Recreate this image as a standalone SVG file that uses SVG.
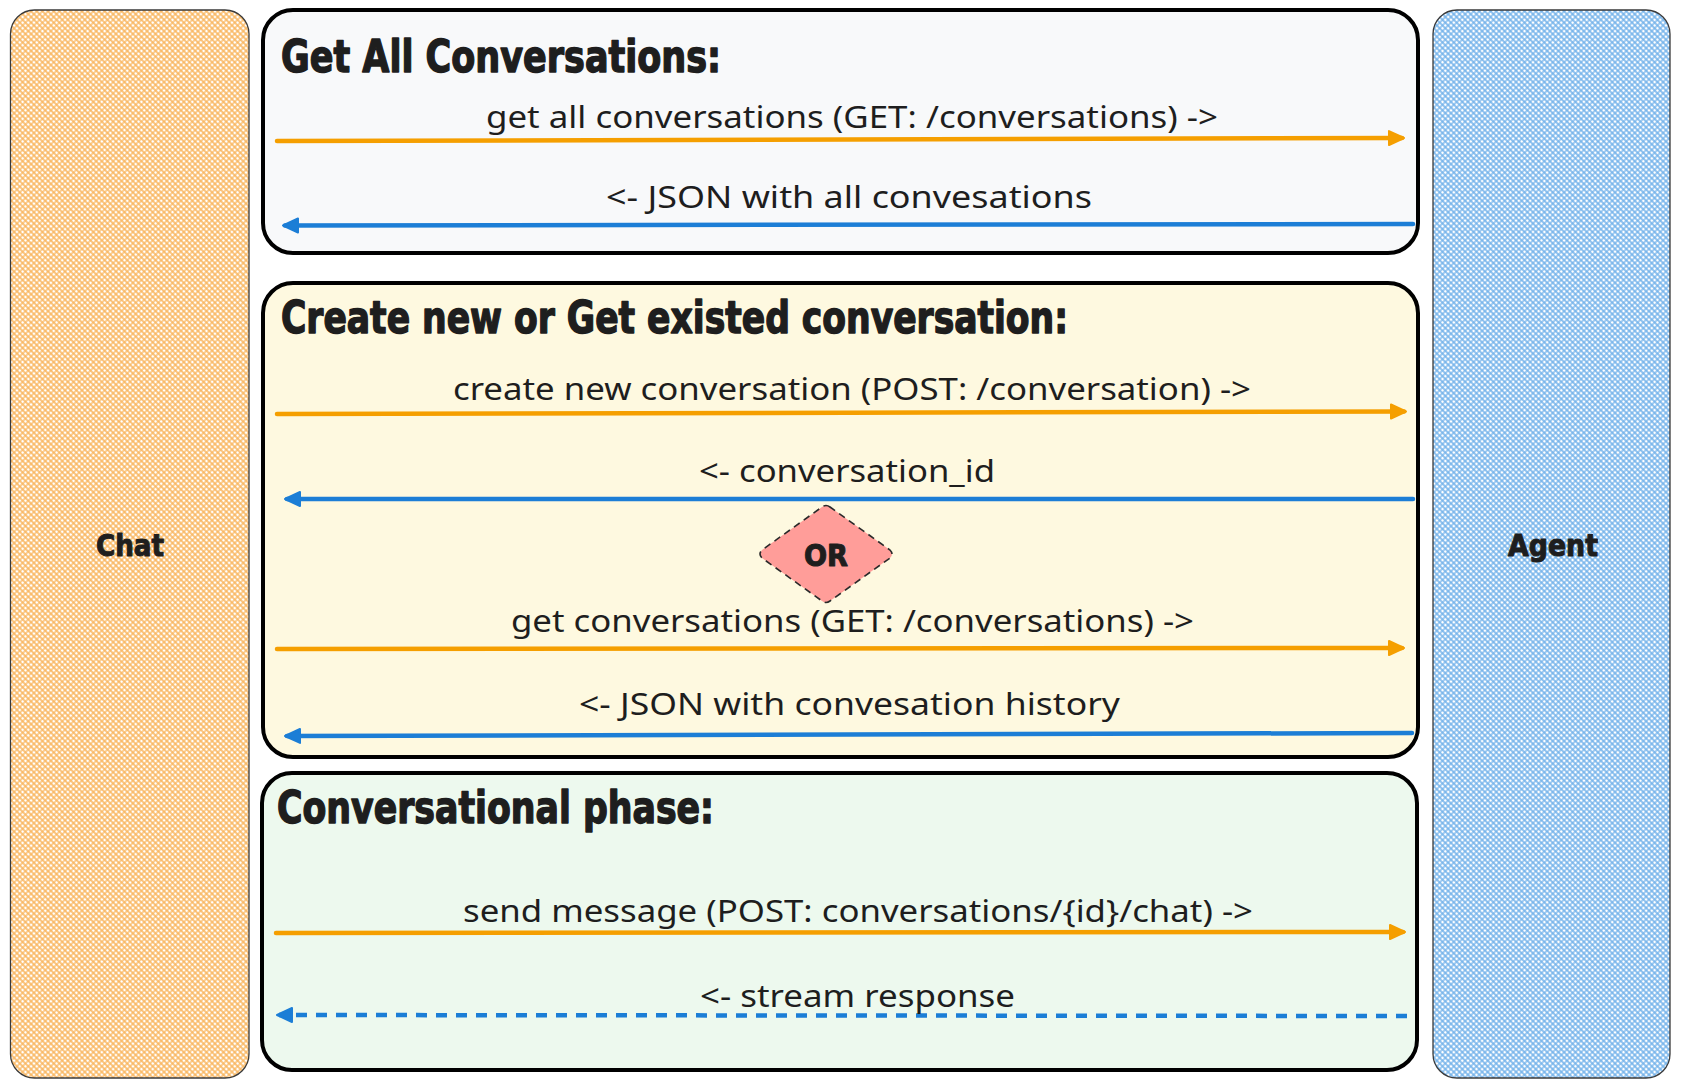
<svg xmlns="http://www.w3.org/2000/svg" width="1682" height="1088" viewBox="0 0 1682 1088">
<defs>
<pattern id="hatchO" width="4" height="4" patternUnits="userSpaceOnUse" patternTransform="rotate(45)">
<rect width="4" height="4" fill="#ffffff"/>
<path d="M0 2H4M2 0V4" stroke="#f9b45a" stroke-width="1.3"/>
</pattern>
<pattern id="hatchB" width="4" height="4" patternUnits="userSpaceOnUse" patternTransform="rotate(45)">
<rect width="4" height="4" fill="#ffffff"/>
<path d="M0 2H4M2 0V4" stroke="#6fb0ea" stroke-width="1.3"/>
</pattern>
<marker id="ahO" markerUnits="userSpaceOnUse" markerWidth="22" markerHeight="22" refX="14" refY="8" orient="auto" overflow="visible">
<path d="M1,1 L16,8 L1,15 Z" fill="#f59f00" stroke="#f59f00" stroke-width="2" stroke-linejoin="round"/>
</marker>
<marker id="ahB" markerUnits="userSpaceOnUse" markerWidth="22" markerHeight="22" refX="14" refY="8" orient="auto" overflow="visible">
<path d="M1,1 L16,8 L1,15 Z" fill="#1c7ed6" stroke="#1c7ed6" stroke-width="2" stroke-linejoin="round"/>
</marker>
</defs>
<style>
.lane{stroke:#3a3a3a;stroke-width:1.3}
.box{stroke:#000;stroke-width:4}
.title{font-family:"DejaVu Sans Condensed","DejaVu Sans",sans-serif;font-weight:bold;font-size:45px;fill:#1e1e1e;stroke:#1e1e1e;stroke-width:1.4;stroke-linejoin:round}
.lbl{font-family:"Noto Sans","Open Sans",sans-serif;font-size:30px;fill:#1e1e1e}
.lane-lbl{font-family:"DejaVu Sans Condensed","DejaVu Sans",sans-serif;font-weight:bold;font-size:30px;fill:#1e1e1e;stroke:#1e1e1e;stroke-width:1;stroke-linejoin:round}
.arr-o{stroke:#f59f00;stroke-width:4.5;stroke-linecap:round;fill:none}
.arr-b{stroke:#1c7ed6;stroke-width:4.5;stroke-linecap:round;fill:none}
</style>
<rect width="1682" height="1088" fill="#ffffff"/>

<g id="chat">
<rect class="lane" x="10.5" y="10" width="238.5" height="1068" rx="24" fill="url(#hatchO)"/>
<text class="lane-lbl" x="130" y="556" text-anchor="middle" textLength="68" lengthAdjust="spacingAndGlyphs">Chat</text>
</g>

<g id="agent">
<rect class="lane" x="1433" y="10" width="237" height="1068" rx="24" fill="url(#hatchB)"/>
<text class="lane-lbl" x="1553" y="556" text-anchor="middle" textLength="90" lengthAdjust="spacingAndGlyphs">Agent</text>
</g>

<g id="phase-get-all">
<rect class="box" x="263" y="10" width="1155" height="243" rx="30" fill="#f8f9fa"/>
<text class="title" x="281" y="72" textLength="440" lengthAdjust="spacingAndGlyphs">Get All Conversations:</text>
</g>

<g id="phase-create">
<rect class="box" x="263" y="283" width="1155" height="474" rx="30" fill="#fef9e0"/>
<text class="title" x="281" y="333" textLength="787" lengthAdjust="spacingAndGlyphs">Create new or Get existed conversation:</text>
</g>

<g id="phase-conversational">
<rect class="box" x="262" y="773" width="1155" height="297" rx="30" fill="#edf9ee"/>
<text class="title" x="277" y="823" textLength="437" lengthAdjust="spacingAndGlyphs">Conversational phase:</text>
</g>

<g id="or-node">
<path d="M830,507 Q826,504 822,507 L762,550 Q758,554 762,558 L822,601 Q826,604 830,601 L890,558 Q894,554 890,550 Z" fill="#ff9d99" stroke="#2a2a2a" stroke-width="1.6" stroke-dasharray="7 5"/>
<text class="lane-lbl" x="826" y="566" text-anchor="middle" font-size="32" textLength="44" lengthAdjust="spacingAndGlyphs">OR</text>
</g>

<g id="connectors">
<path class="arr-o" d="M277,141 L1402,138" marker-end="url(#ahO)"/>
<text class="lbl" x="486" y="128" textLength="732" lengthAdjust="spacingAndGlyphs">get all conversations (GET: /conversations) -&gt;</text>

<path class="arr-b" d="M1413,224 L285,225.5" marker-end="url(#ahB)"/>
<text class="lbl" x="606" y="208" textLength="486" lengthAdjust="spacingAndGlyphs">&lt;- JSON with all convesations</text>

<path class="arr-o" d="M277,414 L1404,411.5" marker-end="url(#ahO)"/>
<text class="lbl" x="453" y="400" textLength="798" lengthAdjust="spacingAndGlyphs">create new conversation (POST: /conversation) -&gt;</text>

<path class="arr-b" d="M1413,499 L287,499" marker-end="url(#ahB)"/>
<text class="lbl" x="699" y="482" textLength="296" lengthAdjust="spacingAndGlyphs">&lt;- conversation_id</text>

<path class="arr-o" d="M277,649 L1402,648" marker-end="url(#ahO)"/>
<text class="lbl" x="511" y="632" textLength="683" lengthAdjust="spacingAndGlyphs">get conversations (GET: /conversations) -&gt;</text>

<path class="arr-b" d="M1412,733 L287,736" marker-end="url(#ahB)"/>
<text class="lbl" x="579" y="715" textLength="541" lengthAdjust="spacingAndGlyphs">&lt;- JSON with convesation history</text>

<path class="arr-o" d="M276,933 L1403,932" marker-end="url(#ahO)"/>
<text class="lbl" x="463" y="922" textLength="790" lengthAdjust="spacingAndGlyphs">send message (POST: conversations/{id}/chat) -&gt;</text>

<path class="arr-b" d="M1407,1016 L279,1015" stroke-dasharray="11 9" style="stroke-linecap:butt" marker-end="url(#ahB)"/>
<text class="lbl" x="700" y="1007" textLength="315" lengthAdjust="spacingAndGlyphs">&lt;- stream response</text>
</g>
</svg>
